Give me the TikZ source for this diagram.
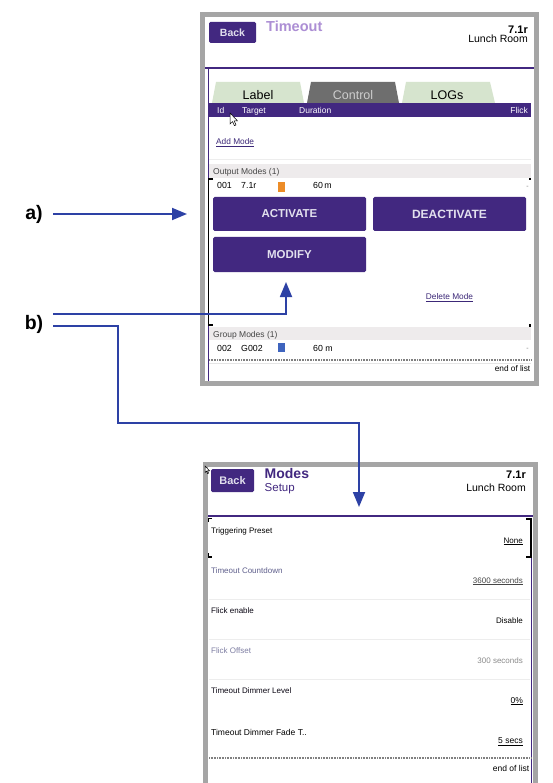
\documentclass[tikz,border=0pt]{standalone}
\usepackage{fontspec}
\setmainfont{Liberation Sans}
\usetikzlibrary{arrows.meta}

\definecolor{uiPurple}{RGB}{66,40,128}
\definecolor{uiLilac}{RGB}{172,142,212}
\definecolor{uiFrame}{RGB}{165,165,165}
\definecolor{uiTab}{RGB}{214,228,206}
\definecolor{uiTabDark}{RGB}{110,110,110}
\definecolor{uiTabText}{RGB}{205,205,205}
\definecolor{uiBand}{RGB}{238,235,236}
\definecolor{uiArrow}{RGB}{45,65,165}
\definecolor{uiBtnText}{RGB}{226,224,238}
\definecolor{uiOrange}{RGB}{236,140,40}
\definecolor{uiBlue}{RGB}{62,100,190}
\definecolor{uiLink}{RGB}{60,40,120}
\definecolor{uiGrey}{RGB}{70,70,70}
\definecolor{uiSoft}{RGB}{95,95,140}

\begin{document}
\begin{tikzpicture}[x=1pt,y=-1pt,
  txt/.style={inner sep=0pt, font=\fontsize{#1}{#1}\selectfont},
  txtb/.style={inner sep=0pt, font=\fontsize{#1}{#1}\selectfont\bfseries},
  btn/.style={fill=uiPurple, inner sep=0pt, rounded corners=1.5pt, text=uiBtnText,
              font=\fontsize{11.5}{11.5}\selectfont\bfseries},
  frame/.style={draw=uiFrame, line width=5pt, fill=white},
  conn/.style={draw=uiArrow, line width=1.8pt},
  tip/.style={-{Triangle[length=15pt,width=12pt]}},
  sep/.style={draw=black!7, line width=0.8pt},
  dots/.style={draw=black!50, line width=1.5pt, dash pattern=on 0.9pt off 0.7pt},
  pointer/.style={fill=white, draw=black, line width=0.5pt},
]
\useasboundingbox (0,0) rectangle (553,783);
\clip (0,0) rectangle (553,783);

% ---------------- upper screen: Timeout / Control ----------------
\draw[frame] (202.5,14.5) rectangle (536.5,383.5);

\node[btn, minimum width=47pt, minimum height=21pt, font=\fontsize{10.5}{10.5}\selectfont\bfseries]
  (backA) at (232.5,32.5) {Back};
\node[txtb=14.5, text=uiLilac, anchor=base west] (titleA) at (266,32) {Timeout};
\node[txtb=11, anchor=base east] (roomA) at (528,33.5) {7.1r};
\node[txt=10.5, anchor=base east] (roomNameA) at (528,42.7) {Lunch Room};

% content border
\draw[uiPurple, line width=2pt] (205,68) -- (534,68);
\draw[uiPurple, line width=1.5pt] (208.5,68) -- (208.5,381);

% tabs
\fill[uiTab] (212,103) -- (216,82) -- (300,82) -- (304,103) -- cycle;
\fill[uiTabDark] (307,103) -- (311,82) -- (395,82) -- (399,103) -- cycle;
\fill[uiTab] (402,103) -- (406,82) -- (490,82) -- (495,103) -- cycle;
\node[txt=12.5, anchor=base] (tabLabel) at (258,100) {Label};
\node[txt=12.5, anchor=base, text=uiTabText] (tabControl) at (353,100) {Control};
\node[txt=12.5, anchor=base] (tabLogs) at (447,100) {LOGs};

% column header
\fill[uiPurple] (208,103) rectangle (531,117);
\node[txt=8.5, text=white, anchor=base west] (hId) at (217,113.5) {Id};
\node[txt=8.5, text=white, anchor=base west] (hTarget) at (242,113.5) {Target};
\node[txt=8.5, text=white, anchor=base west] (hDuration) at (299,113.5) {Duration};
\node[txt=8.5, text=white, anchor=base east] (hFlick) at (528,113.5) {Flick};

\path[pointer, shift={(230,113)}] (0,0) -- (0,11) -- (2.6,8.6) -- (4.4,12.6)
  -- (6,11.9) -- (4.2,8) -- (7.6,8) -- cycle;

\node[txt=8.3, text=uiLink, anchor=base west] (addMode) at (216,145) {\underline{Add Mode}};
\draw[sep] (209,159) -- (531,159);

% output modes
\fill[uiBand] (209,164) rectangle (531,178);
\node[txt=8.5, text=uiGrey, anchor=base west] (outModes) at (213,174.5) {Output Modes (1)};
\node[txt=8.8, anchor=base west] (o1) at (217,189) {001};
\node[txt=8.8, anchor=base west] (o2) at (241,189) {7.1r};
\fill[uiOrange] (278,182) rectangle (285,192);
\node[txt=8.8, anchor=base west] (o3) at (313,189) {60\,m};
\node[txt=7, text=black!50, anchor=base east] (o4) at (529,189) {-};

% selection bracket
\draw[black, line width=1.3pt] (213,179) -- (208.5,179) -- (208.5,325) -- (213,325);
\fill[black] (528.5,178) rectangle (531,180.5);
\fill[black] (528.5,324) rectangle (531,326.5);

% action buttons
\node[btn, minimum width=153pt, minimum height=34pt] (activate) at (289.5,214) {ACTIVATE};
\node[btn, minimum width=153pt, minimum height=34pt, font=\fontsize{12}{12}\selectfont\bfseries]
  (deactivate) at (449.5,214) {DEACTIVATE};
\node[btn, minimum width=153pt, minimum height=35pt] (modify) at (289.5,254.5) {MODIFY};
\node[txt=8.3, text=uiLink, anchor=base] (delMode) at (449.5,299.5) {\underline{Delete Mode}};

% group modes
\fill[uiBand] (209,327) rectangle (531,340);
\node[txt=8.5, text=uiGrey, anchor=base west] (grpModes) at (213,337) {Group Modes (1)};
\node[txt=8.8, anchor=base west] (g1) at (217,351) {002};
\node[txt=8.8, anchor=base west] (g2) at (241,351) {G002};
\fill[uiBlue] (278,343) rectangle (285,352);
\node[txt=8.8, anchor=base west] (g3) at (313,351) {60 m};
\node[txt=7, text=black!50, anchor=base east] (g4) at (529,350) {-};

\draw[dots] (209,360) -- (531,360);
\draw[black!10, line width=0.8pt] (209,363.5) -- (531,363.5);
\node[txt=8.3, anchor=base east] (endA) at (530.5,371) {end of list};

% ---------------- lower screen: Modes Setup ----------------
\draw[frame] (205.5,464.5) rectangle (535.5,800);
\path[pointer, shift={(205,466)}, scale=0.6] (0,0) -- (0,11) -- (2.6,8.6) -- (4.4,12.6)
  -- (6,11.9) -- (4.2,8) -- (7.6,8) -- cycle;

\node[btn, minimum width=43pt, minimum height=23pt, font=\fontsize{11}{11}\selectfont\bfseries]
  (backB) at (232.5,480.5) {Back};
\node[txtb=14, text=uiPurple, anchor=base west] (titleB) at (264.5,478.5) {Modes};
\node[txt=11.5, text=uiPurple, anchor=base west] (subB) at (264.5,491) {Setup};
\node[txtb=11, anchor=base east] (roomB) at (526,478.5) {7.1r};
\node[txt=10.5, anchor=base east] (roomNameB) at (526,491) {Lunch Room};

\draw[uiPurple, line width=2pt] (208,516) -- (533,516);
\draw[uiPurple, line width=1.5pt] (531.5,557) -- (531.5,790);

% selection bracket
\draw[black, line width=1.4pt] (526,519) -- (531,519) -- (531,557) -- (526,557);
\draw[black, line width=1.4pt] (208.5,522) -- (208.5,518.5) -- (212,518.5);
\draw[black, line width=1.4pt] (208.5,553) -- (208.5,557) -- (212,557);

% settings list
\node[txt=8, anchor=base west] (s1) at (211,533) {Triggering Preset};
\node[txt=8, anchor=base east] (v1) at (523,543) {\underline{None}};
\node[txt=8, text=uiSoft, anchor=base west] (s2) at (211,573) {Timeout Countdown};
\node[txt=8, text=uiGrey, anchor=base east] (v2) at (523,583) {\underline{3600 seconds}};
\draw[sep] (209,599) -- (530,599);
\node[txt=8, text=black!85!uiPurple, anchor=base west] (s3) at (211,613) {Flick enable};
\node[txt=8, anchor=base east] (v3) at (523,623) {Disable};
\draw[sep] (209,639) -- (530,639);
\node[txt=8, text=uiSoft!80, anchor=base west] (s4) at (211,653) {Flick Offset};
\node[txt=8, text=black!45, anchor=base east] (v4) at (523,663) {300 seconds};
\draw[sep] (209,679) -- (530,679);
\node[txt=8, text=black!85!uiPurple, anchor=base west] (s5) at (211,693) {Timeout Dimmer Level};
\node[txt=8.5, anchor=base east] (v5) at (523,703) {\underline{0\%}};
\node[txt=8.5, anchor=base west] (s6) at (211,735) {Timeout Dimmer Fade T..};
\node[txt=8.5, anchor=base east] (v6) at (523,743.5) {\underline{5 secs}};

\draw[dots] (209,758) -- (531,758);
\node[txt=8.5, anchor=base east] (endB) at (529.5,771) {end of list};

% ---------------- callouts ----------------
\node[txtb=19.5, anchor=base] (labA) at (34,220) {a)};
\node[txtb=19.5, anchor=base] (labB) at (34,329.5) {b)};

\coordinate (aStart) at (53,214);
\coordinate (aTip) at (187,214);
\coordinate (bUpper) at (53,314);
\coordinate (bLower) at (53,326);
\coordinate (modifyTip) at (286,282);
\coordinate (bBend) at (118,423);
\coordinate (modesTip) at (359,507);

\draw[conn, tip] (aStart) -- (aTip);
\draw[conn, tip] (bUpper) -| (modifyTip);
\draw[conn, tip] (bLower) -| (bBend) -| (modesTip);

\end{tikzpicture}
\end{document}
